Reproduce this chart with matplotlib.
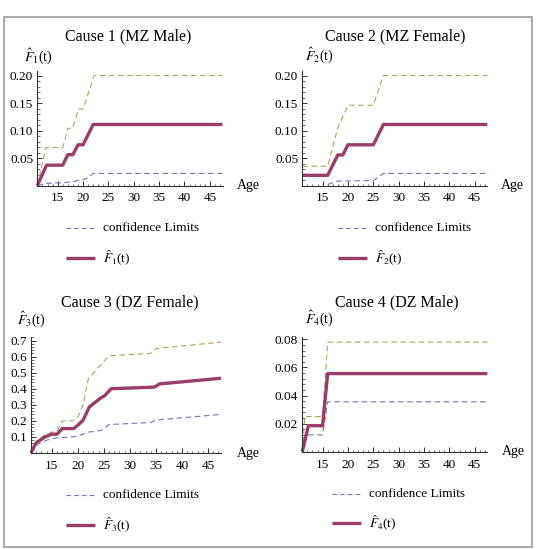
import matplotlib
matplotlib.use("Agg")
import matplotlib.pyplot as plt
from matplotlib.lines import Line2D
from matplotlib.patches import Rectangle
from matplotlib.ticker import MultipleLocator, AutoMinorLocator, FormatStrFormatter

plt.rcParams['font.family'] = ['Liberation Serif', 'DejaVu Serif']
plt.rcParams['mathtext.fontset'] = 'stix'

# ---- data ----
titles = ["Cause 1 (MZ Male)", "Cause 2 (MZ Female)", "Cause 3 (DZ Female)", "Cause 4 (DZ Male)"]

age_f1 = [11, 12.8, 16, 17, 18, 19, 20, 22, 47.5]
f1 = [0, 0.037, 0.037, 0.056, 0.056, 0.074, 0.074, 0.111, 0.111]
age_up1 = [11, 12.7, 16, 17, 17.9, 19.1, 20, 22.2, 47.5]
up1 = [0, 0.069, 0.069, 0.104, 0.104, 0.139, 0.139, 0.2, 0.2]
age_lo1 = [11, 12.5, 16, 18, 20, 21, 22, 47.5]
lo1 = [0, 0.004, 0.005, 0.007, 0.011, 0.014, 0.022, 0.022]

age_f2 = [11, 16, 18, 19, 20, 25, 27, 47.5]
f2 = [0.0185, 0.0185, 0.0556, 0.0556, 0.074, 0.074, 0.111, 0.111]
age_up2 = [11, 16, 18, 20, 25, 27, 47.5]
up2 = [0.035, 0.035, 0.105, 0.146, 0.146, 0.2, 0.2]
age_lo2 = [16, 18, 25, 27, 47.5]
lo2 = [0.002, 0.008, 0.009, 0.022, 0.022]

age_f3 = [11, 12, 13.7, 15, 16, 17, 19.2, 20, 21, 22.2, 24.2, 25.2, 26.4, 34.7, 35.7, 47.5]
f3 = [0, 0.064, 0.10, 0.117, 0.117, 0.152, 0.152, 0.173, 0.204, 0.286, 0.338, 0.358, 0.40, 0.41, 0.43, 0.465]
age_up3 = [11, 12, 13.5, 15, 16, 17, 19, 20, 21, 22, 24, 26, 34, 35, 47.5]
up3 = [0, 0.07, 0.11, 0.13, 0.135, 0.2, 0.2, 0.225, 0.3, 0.46, 0.535, 0.605, 0.62, 0.65, 0.69]
age_lo3 = [11, 12, 14, 16, 19, 20, 22, 24.5, 26, 34, 35, 47.5]
lo3 = [0, 0.05, 0.08, 0.095, 0.1, 0.105, 0.13, 0.14, 0.177, 0.19, 0.205, 0.24]

age_f4 = [11, 12.2, 15, 16, 47.5]
f4 = [0, 0.0185, 0.0185, 0.0556, 0.0556]
age_up4 = [11, 11.5, 15, 16, 47.5]
up4 = [0, 0.025, 0.025, 0.078, 0.078]
age_lo4 = [11, 12, 15, 16, 47.5]
lo4 = [0, 0.012, 0.012, 0.0355, 0.0355]

y_tops = [0.2075, 0.2075, 0.72, 0.082]
y_steps = [0.05, 0.05, 0.1, 0.02]
y_fmts = ['%.2f', '%.2f', '%.1f', '%.2f']
x_ticks = [15, 20, 25, 30, 35, 40, 45]

series = [
    (age_f1, f1, age_up1, up1, age_lo1, lo1),
    (age_f2, f2, age_up2, up2, age_lo2, lo2),
    (age_f3, f3, age_up3, up3, age_lo3, lo3),
    (age_f4, f4, age_up4, up4, age_lo4, lo4),
]

# ---- layout in pixels (left, right, bottom(y=0), top(ylim top)) ----
W, H = 540, 549
boxes = [(37.4, 222.5, 185.5, 71.4),
         (302.3, 487.4, 185.5, 71.4),
         (31.0, 221.0, 453.0, 337.3),
         (302.3, 487.4, 451.7, 336.5)]
title_pos = [(128, 36), (395, 36), (130, 302), (397, 302)]
ylab_pos = [(38, 56), (319, 55), (31, 319), (319, 318)]
age_pos = [(237, 186), (501, 186), (237, 453), (502, 452)]
leg_pos = [(66, 228, 258), (338, 228, 258), (66, 495, 525), (332, 494, 523)]

purple = '#993d6b'
olive = '#a9a85a'
blue = '#7474bb'
axis_col = '#333333'

fig = plt.figure(figsize=(W / 100, H / 100), dpi=100)
bg = fig.add_axes([0, 0, 1, 1])
bg.set_xlim(0, W)
bg.set_ylim(H, 0)
bg.axis('off')
bg.add_patch(Rectangle((4, 17), 528, 530, fill=False, edgecolor='#9a9a9a', linewidth=1.2))

for i in range(4):
    l, r, b, t = boxes[i]
    ax = fig.add_axes([l / W, 1 - b / H, (r - l) / W, (b - t) / H])
    ax.patch.set_visible(False)
    af, fv, au, uv, al, lv = series[i]
    ax.plot(au, uv, color=olive, lw=0.8, dashes=(5, 3.2), clip_on=False)
    ax.plot(al, lv, color=blue, lw=0.8, dashes=(5, 3.2), clip_on=False)
    ax.plot(af, fv, color=purple, lw=2.4, solid_capstyle='butt', clip_on=False)
    ax.set_xlim(11, 47.5)
    ax.set_ylim(0, y_tops[i])
    for s in ['top', 'right']:
        ax.spines[s].set_visible(False)
    for s in ['left', 'bottom']:
        ax.spines[s].set_color(axis_col)
        ax.spines[s].set_linewidth(0.8)
    ax.set_xticks(x_ticks)
    ax.xaxis.set_minor_locator(MultipleLocator(1))
    ax.yaxis.set_major_locator(MultipleLocator(y_steps[i]))
    ax.yaxis.set_minor_locator(AutoMinorLocator(5))
    ax.yaxis.set_major_formatter(FormatStrFormatter(y_fmts[i]))
    yt = [v for v in ax.get_yticks() if 0 < v <= y_tops[i] + 1e-9]
    ax.set_yticks(yt)
    ax.set_yticklabels([y_fmts[i] % v for v in yt])
    ax.tick_params(which='major', direction='in', length=3.5, width=0.7, color=axis_col,
                   labelsize=9.5, pad=3)
    ax.tick_params(which='minor', direction='in', length=1.8, width=0.5, color=axis_col)
    ax.tick_params(axis='x', which='major', pad=5)

    tx, ty = title_pos[i]
    bg.text(tx, ty, titles[i], fontsize=11.5, ha='center', va='center')
    yx, yy = ylab_pos[i]
    bg.text(yx, yy, r'$\hat{F}_{%d}$(t)' % (i + 1), fontsize=10, ha='center', va='center')
    gx, gy = age_pos[i]
    bg.text(gx, gy, 'Age', fontsize=10, ha='left', va='center')
    lx, ly1, ly2 = leg_pos[i]
    bg.add_line(Line2D([lx, lx + 28], [ly1, ly1], color=blue, lw=0.8, dashes=(4, 3)))
    bg.text(lx + 37, ly1, 'confidence Limits', fontsize=9.5, ha='left', va='center')
    bg.add_line(Line2D([lx, lx + 29], [ly2, ly2], color=purple, lw=2.4, solid_capstyle='butt'))
    bg.text(lx + 37, ly2, r'$\hat{F}_{%d}$(t)' % (i + 1), fontsize=9.5, ha='left', va='center')

fig.savefig('out.png', dpi=100)
